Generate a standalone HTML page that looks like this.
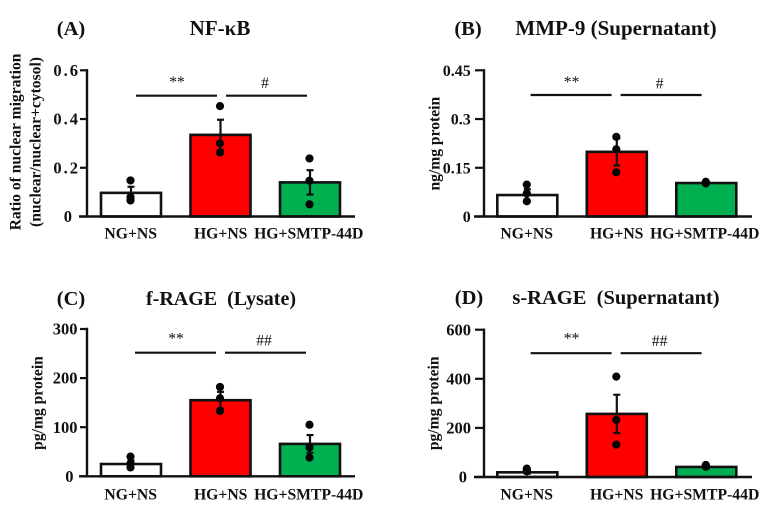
<!DOCTYPE html>
<html lang="en">
<head>
<meta charset="utf-8">
<title>NF-κB, MMP-9, f-RAGE and s-RAGE bar charts</title>
<style>
html,body{margin:0;padding:0;background:#fff;width:769px;height:506px;overflow:hidden}
svg{display:block;font-family:"Liberation Serif",serif;font-weight:bold;fill:#111;filter:blur(0.35px)}
</style>
</head>
<body>
<svg id="figure" xmlns="http://www.w3.org/2000/svg" width="769" height="506" viewBox="0 0 769 506"></svg>
<script>
const categories = ['NG+NS', 'HG+NS', 'HG+SMTP-44D'];
const barColors = ['#ffffff', '#ff0000', '#00b050'];

const meansA = [0.097, 0.335, 0.14];
const errorsA = [0.025, 0.062, 0.05];
const pointsA = [[0.148, 0.08, 0.066], [0.453, 0.30, 0.262], [0.238, 0.147, 0.05]];
const ticksA = [0, 0.2, 0.4, 0.6];
const tickLabelsA = ['0', '0.2', '0.4', '0.6'];

const meansB = [0.066, 0.199, 0.103];
const errorsB = [0.018, 0.042, 0.003];
const pointsB = [[0.098, 0.071, 0.047], [0.245, 0.207, 0.136], [0.107, 0.104, 0.102]];
const ticksB = [0, 0.15, 0.3, 0.45];
const tickLabelsB = ['0', '0.15', '0.3', '0.45'];

const meansC = [25, 155, 66];
const errorsC = [7, 17, 18];
const pointsC = [[40, 26, 18], [182, 159, 133], [105, 59, 38]];
const ticksC = [0, 100, 200, 300];
const tickLabelsC = ['0', '100', '200', '300'];

const meansD = [19, 257, 41];
const errorsD = [5, 78, 6];
const pointsD = [[34, 27, 23], [409, 233, 132], [49, 45, 42]];
const ticksD = [0, 200, 400, 600];
const tickLabelsD = ['0', '200', '400', '600'];

const svg = document.getElementById('figure');
const NS = 'http://www.w3.org/2000/svg';

function make(parent, tag, attrs, text) {
  const el = document.createElementNS(NS, tag);
  for (const k in attrs) el.setAttribute(k, attrs[k]);
  if (text !== undefined) el.textContent = text;
  parent.appendChild(el);
  return el;
}
function line(parent, x1, y1, x2, y2, w, name) {
  const el = make(parent, 'line', {x1: x1, y1: y1, x2: x2, y2: y2, stroke: '#111', 'stroke-width': w});
  
  
  return el;
}
function label(parent, x, y, str, size, anchor, name, weight) {
  const el = make(parent, 'text', {x: x, y: y, 'font-size': size, 'text-anchor': anchor, 'font-weight': weight || 'bold'}, str);
  
  
  return el;
}

function drawPanel(cfg) {
  const g = make(svg, 'g', {});
  
  

  const x0 = cfg.axisX, yBase = cfg.yBase, yTop = cfg.yTop;
  const maxV = cfg.ticks[cfg.ticks.length - 1];
  const yScale = v => yBase - (v / maxV) * (yBase - yTop);
  const xScale = i => x0 + cfg.barDx + 44 + i * 89.5;
  const barW = 60;

  label(g, cfg.tagX, cfg.titleY, '(' + cfg.id.toUpperCase() + ')', 20.5, 'middle', 'panel-label');
  label(g, cfg.titleX, cfg.titleY, cfg.title, cfg.titleSize, 'middle', 'panel-title');

  categories.forEach((c, i) => {
    const cx = xScale(i);
    const bar = make(g, 'rect', {
      x: cx - barW / 2, y: yScale(cfg.means[i]), width: barW,
      height: yBase - yScale(cfg.means[i]),
      fill: barColors[i], stroke: '#111', 'stroke-width': 2.6
    });
    
    

    const hi = yScale(cfg.means[i] + cfg.errors[i]);
    const lo = yScale(cfg.means[i] - cfg.errors[i]);
    line(g, cx, hi, cx, lo, 2.2, 'error-bar');
    line(g, cx - 3.5, hi, cx + 3.5, hi, 2.2, 'error-cap-upper');
    line(g, cx - 3.5, lo, cx + 3.5, lo, 2.2, 'error-cap-lower');

    cfg.points[i].forEach(p => {
      const dot = make(g, 'circle', {cx: cx - 0.5, cy: yScale(p), r: 4.1, fill: '#050505'});
      
      
    });

    label(g, cfg.axisX + cfg.labelDx + [43.7, 133.7, 221.7][i], yBase + cfg.xLabelDy, c, 15.7, 'middle', 'x-tick-label');
  });

  line(g, x0, yTop - 1.2, x0, yBase + 1, 2.4, 'y-axis');
  line(g, x0 - cfg.tickLen - 1, yBase, x0 + 268, yBase, 2.4, 'x-axis');
  cfg.ticks.forEach((t, i) => {
    line(g, x0 - cfg.tickLen, yScale(t), x0, yScale(t), 2.2, 'y-tick');
    const right = t === 0 ? cfg.zeroRight : cfg.tickRight + cfg.tickSpacing;
    const tl = label(g, right, yScale(t) + 5.6, cfg.tickLabels[i], cfg.tickSize, 'end', 'y-tick-label');
    if (cfg.tickSpacing && t !== 0) tl.setAttribute('letter-spacing', cfg.tickSpacing);
  });

  cfg.yTitles.forEach(t => {
    const el = label(g, 0, 0, t.text, 15.6, 'middle', 'y-axis-title');
    el.setAttribute('transform', 'translate(' + t.x + ' ' + cfg.yTitleY + ') rotate(-90)');
  });

  const by = yTop + cfg.bracketDy;
  const bx = x0 + cfg.bracketDx;
  line(g, bx + 49, by, bx + 130, by, 2.2, 'significance-line-left');
  line(g, bx + 139, by, bx + 220, by, 2.2, 'significance-line-right');
  label(g, bx + 90, yTop + cfg.starDy, '**', 15.6, 'middle', 'significance-stars', 'normal');
  label(g, bx + 178, yTop + cfg.hashDy, cfg.sig, 15.6, 'middle', 'significance-hash', 'normal');
}

drawPanel({id: 'a', axisX: 87, yBase: 216.5, yTop: 70.3, tagX: 71, titleX: 220, titleY: 35, titleSize: 21,
  title: 'NF-κB', means: meansA, errors: errorsA, points: pointsA, ticks: ticksA, tickLabels: tickLabelsA,
  yTitles: [{text: 'Ratio of nuclear migration', x: 20.7}, {text: '(nuclear/nuclear+cytosol)', x: 40.7}],
  yTitleY: 142, bracketDy: 25.4, sig: '#', xLabelDy: 22, barDx: 0, labelDx: 0, bracketDx: 0,
  tickLen: 7, tickSize: 16.5, tickRight: 78, zeroRight: 72, tickSpacing: 2, starDy: 16.5, hashDy: 17.7});

drawPanel({id: 'b', axisX: 484, yBase: 216.5, yTop: 70.3, tagX: 468, titleX: 616, titleY: 35, titleSize: 21,
  title: 'MMP-9 (Supernatant)', means: meansB, errors: errorsB, points: pointsB, ticks: ticksB, tickLabels: tickLabelsB,
  yTitles: [{text: 'ng/mg protein', x: 439.3}],
  yTitleY: 143.7, bracketDy: 24.7, sig: '#', xLabelDy: 22, barDx: -0.7, labelDx: -1, bracketDx: -2.4,
  tickLen: 9, tickSize: 16, tickRight: 470.7, zeroRight: 470.7, tickSpacing: 0, starDy: 16.5, hashDy: 18});

drawPanel({id: 'c', axisX: 87, yBase: 476.3, yTop: 329, tagX: 71, titleX: 221, titleY: 305, titleSize: 20,
  title: 'f-RAGE\u00a0 (Lysate)', means: meansC, errors: errorsC, points: pointsC, ticks: ticksC, tickLabels: tickLabelsC,
  yTitles: [{text: 'pg/mg protein', x: 42.7}],
  yTitleY: 403, bracketDy: 23.7, sig: '##', xLabelDy: 23, barDx: 0, labelDx: 0, bracketDx: -1,
  tickLen: 7, tickSize: 16.5, tickRight: 77.5, zeroRight: 73.5, tickSpacing: 0, starDy: 14.6, hashDy: 16.7});

drawPanel({id: 'd', axisX: 484, yBase: 477, yTop: 329.7, tagX: 469, titleX: 616, titleY: 304, titleSize: 20.5,
  title: 's-RAGE\u00a0 (Supernatant)', means: meansD, errors: errorsD, points: pointsD, ticks: ticksD, tickLabels: tickLabelsD,
  yTitles: [{text: 'pg/mg protein', x: 438.3}],
  yTitleY: 403.3, bracketDy: 23.5, sig: '##', xLabelDy: 22.5, barDx: -0.7, labelDx: -1, bracketDx: -2.4,
  tickLen: 9, tickSize: 16.5, tickRight: 471, zeroRight: 467, tickSpacing: 0, starDy: 14, hashDy: 16.3});
</script>
</body>
</html>
